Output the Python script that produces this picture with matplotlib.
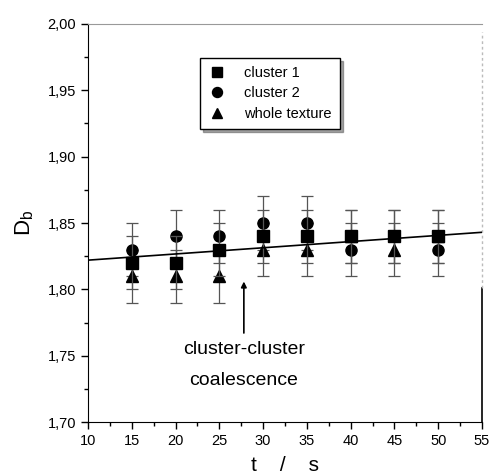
import matplotlib
matplotlib.use("Agg")
import matplotlib.pyplot as plt
from matplotlib.ticker import MultipleLocator, FuncFormatter

plt.rcParams['font.family'] = ['Liberation Sans', 'DejaVu Sans']
plt.rcParams['mathtext.fontset'] = 'custom'
plt.rcParams['mathtext.rm'] = 'Liberation Sans'
plt.rcParams['mathtext.it'] = 'Liberation Sans'

t = [15, 20, 25, 30, 35, 40, 45, 50]
cluster1 = [1.82, 1.82, 1.83, 1.84, 1.84, 1.84, 1.84, 1.84]
cluster2 = [1.83, 1.84, 1.84, 1.85, 1.85, 1.83, 1.84, 1.83]
whole = [1.81, 1.81, 1.81, 1.83, 1.83, 1.84, 1.83, 1.84]
err = 0.02
fit_t = [10, 55]
fit_d = [1.822, 1.843]

fig = plt.figure(figsize=(4.9, 4.76), dpi=100)
ax = fig.add_axes([0.1796, 0.1134, 0.8041, 0.8362])

eb_kw = dict(yerr=err, ecolor='#555555', elinewidth=0.9, capsize=4, capthick=0.9,
             linestyle='none', color='black', markersize=8)
ax.errorbar(t, cluster2, fmt='o', label='cluster 2', zorder=3, **eb_kw)
ax.errorbar(t, whole, fmt='^', label='whole texture', zorder=3, **eb_kw)
ax.errorbar(t, cluster1, fmt='s', label='cluster 1', zorder=4, **eb_kw)
ax.plot(fit_t, fit_d, color='black', lw=1.2, zorder=5)

ax.set_xlim(10, 55)
ax.set_ylim(1.70, 2.00)
ax.xaxis.set_major_locator(MultipleLocator(5))
ax.xaxis.set_minor_locator(MultipleLocator(2.5))
ax.yaxis.set_major_locator(MultipleLocator(0.05))
ax.yaxis.set_minor_locator(MultipleLocator(0.025))
ax.yaxis.set_major_formatter(FuncFormatter(lambda v, p: f"{v:.2f}".replace('.', ',')))
ax.tick_params(which='major', direction='out', length=5, width=1, labelsize=10.5)
ax.tick_params(which='minor', direction='out', length=3, width=1)

ax.spines['top'].set_color('#999999')
ax.spines['right'].set_visible(False)
ax.axvline(55, ymin=0, ymax=0.337, color='black', lw=1.2, clip_on=False)
ax.axvline(55, ymin=0.337, ymax=0.98, color='#bbbbbb', lw=1, ls=(0, (2, 2)), clip_on=False)

ax.set_xlabel('t    /    s', fontsize=15, labelpad=6)
ax.set_ylabel(r'D$_{\mathrm{b}}$', fontsize=16, labelpad=8)

handles, labels = ax.get_legend_handles_labels()
order = [labels.index('cluster 1'), labels.index('cluster 2'), labels.index('whole texture')]
hs = [handles[i][0] for i in order]
ls = [labels[i] for i in order]
leg = ax.legend(hs, ls, loc='upper left', bbox_to_anchor=(0.284, 0.915), borderaxespad=0,
                fontsize=10.5, frameon=True, fancybox=False, shadow=True, edgecolor='black',
                framealpha=1, handlelength=1.2, handletextpad=1.3, borderpad=0.55,
                labelspacing=0.45, markerscale=0.9)
leg.get_frame().set_linewidth(1.0)

ax.annotate('', xy=(27.8, 1.808), xytext=(27.8, 1.765),
            arrowprops=dict(arrowstyle='-|>', color='black', lw=1.2, mutation_scale=8))
ax.text(27.8, 1.7608, 'cluster-cluster', ha='center', va='top', fontsize=14)
ax.text(27.8, 1.7375, 'coalescence', ha='center', va='top', fontsize=14)

fig.savefig('out.png', dpi=100)
